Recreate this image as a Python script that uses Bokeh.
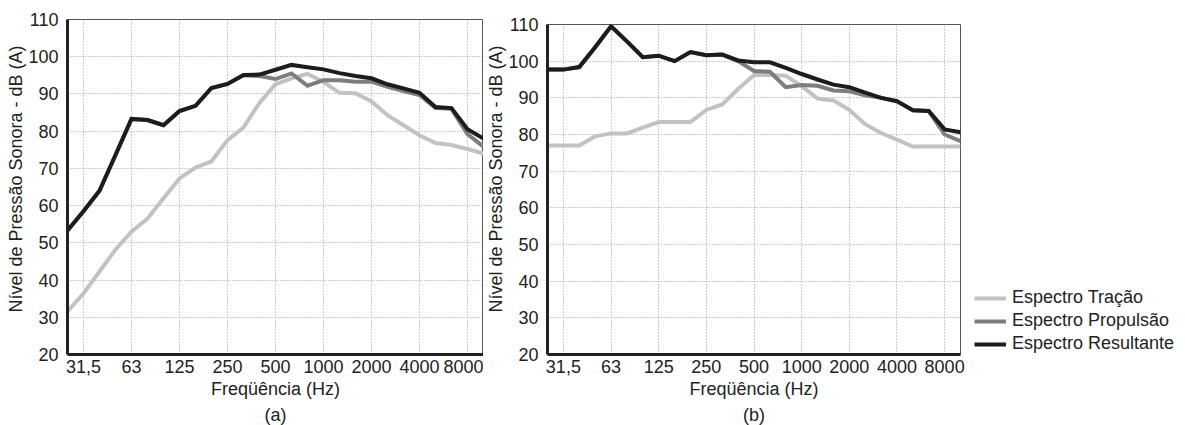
from bokeh.plotting import figure
from bokeh.models import Range1d, FixedTicker, Legend, LegendItem, Title
from bokeh.layouts import row, column
from bokeh.embed import file_html
from bokeh.resources import INLINE

# third-octave bands (x positions are band indices)
bands = ["25", "31,5", "40", "50", "63", "80", "100", "125", "160", "200", "250", "315",
         "400", "500", "630", "800", "1000", "1250", "1600", "2000", "2500", "3150",
         "4000", "5000", "6300", "8000", "10000"]
tick_labels = ["31,5", "63", "125", "250", "500", "1000", "2000", "4000", "8000"]
y_ticks = [20, 30, 40, 50, 60, 70, 80, 90, 100, 110]

# panel (a)
a_tracao = [31.6, 36.4, 42.3, 48.2, 53.0, 56.5, 62.0, 67.3, 70.2, 71.9, 77.6, 81.0, 87.6,
            92.6, 94.2, 95.4, 93.2, 90.3, 90.2, 88.0, 84.3, 81.6, 78.9, 76.8, 76.3, 75.2, 74.0]
a_propulsao = [53.3, 58.5, 64.0, 73.6, 83.3, 83.0, 81.6, 85.4, 86.8, 91.6, 92.7, 95.0, 94.8,
               94.0, 95.5, 92.2, 93.7, 93.7, 93.3, 93.3, 91.9, 90.8, 89.7, 86.2, 86.0, 79.2, 75.8]
a_resultante = [53.3, 58.5, 64.0, 73.6, 83.3, 83.0, 81.6, 85.4, 86.8, 91.6, 92.7, 95.1, 95.2,
                96.5, 97.8, 97.2, 96.6, 95.6, 94.8, 94.2, 92.6, 91.5, 90.3, 86.5, 86.2, 80.5, 78.0]

# panel (b)
b_tracao = [77.0, 77.0, 77.0, 79.5, 80.3, 80.3, 81.9, 83.4, 83.4, 83.4, 86.7, 88.2, 92.4,
            96.2, 96.2, 96.0, 93.2, 89.8, 89.3, 86.7, 82.8, 80.4, 78.6, 76.7, 76.7, 76.7, 76.7]
b_propulsao = [97.7, 97.7, 98.4, 103.8, 109.5, 105.4, 101.1, 101.5, 100.0, 102.5, 101.6, 101.8, 100.0,
               97.3, 97.1, 92.9, 93.5, 93.3, 92.0, 91.8, 90.7, 90.0, 89.0, 86.6, 86.4, 80.0, 78.2]
b_resultante = [97.7, 97.7, 98.4, 103.8, 109.5, 105.4, 101.1, 101.5, 100.0, 102.5, 101.6, 101.8, 100.2,
                99.7, 99.7, 98.2, 96.5, 95.0, 93.6, 92.9, 91.4, 90.0, 89.1, 86.6, 86.4, 81.4, 80.6]

series_names = ["Espectro Tração", "Espectro Propulsão", "Espectro Resultante"]
series_colors = ["#c2c2c2", "#7d7d7d", "#1c1c1c"]
y_title = "Nível de Pressão Sonora  - dB (A)"
x_title = "Freqüência (Hz)"

FONT = "Liberation Sans"
FS = "18px"
TXT = "#222222"
x_idx = list(range(len(bands)))
tick_idx = [bands.index(t) for t in tick_labels]


def make_panel(tag, series, frame_w, frame_h, left, top, right):
    p = figure(frame_width=frame_w, frame_height=frame_h,
               x_range=Range1d(0, len(bands) - 1), y_range=Range1d(20, 110),
               output_backend="svg", toolbar_location=None,
               min_border_left=left, min_border_right=right,
               min_border_top=top, min_border_bottom=71)
    p.background_fill_color = "white"
    p.border_fill_color = "white"
    p.outline_line_color = "#555555"
    p.outline_line_width = 1

    p.xaxis.ticker = FixedTicker(ticks=tick_idx)
    p.xaxis.major_label_overrides = {i: t for i, t in zip(tick_idx, tick_labels)}
    p.yaxis.ticker = FixedTicker(ticks=y_ticks)
    for ax in (p.xaxis[0], p.yaxis[0]):
        ax.axis_line_width = 3
        ax.axis_line_color = "#222222"
        ax.major_tick_line_color = None
        ax.minor_tick_line_color = None
        ax.major_label_text_font = FONT
        ax.major_label_text_font_size = FS
        ax.major_label_text_color = TXT
        ax.axis_label_text_font = FONT
        ax.axis_label_text_font_size = FS
        ax.axis_label_text_font_style = "normal"
        ax.axis_label_text_color = TXT
    p.xaxis.axis_label = x_title
    p.xaxis.major_label_standoff = -1
    p.xaxis.axis_label_standoff = 3
    p.yaxis.major_label_standoff = 3

    for g in (p.xgrid[0], p.ygrid[0]):
        g.grid_line_color = "#999999"
        g.grid_line_dash = "1 2"
        g.grid_line_width = 1
    p.xgrid.ticker = FixedTicker(ticks=tick_idx)

    p.add_layout(Title(text=y_title, align="left", offset=42, text_font=FONT, text_font_size=FS,
                       text_font_style="normal", text_color=TXT, standoff=0), "left")
    p.add_layout(Title(text=tag, align="center", text_font=FONT, text_font_size=FS,
                       text_font_style="normal", text_color=TXT, standoff=2), "below")

    rends = []
    for vals, col in zip(series, series_colors):
        r = p.line(x_idx, vals, line_color=col, line_width=4, line_join="miter")
        rends.append(r)
    return p, rends


pa, _ = make_panel("(a)", [a_tracao, a_propulsao, a_resultante], 416, 335, 67, 19, 0)
pb, rb = make_panel("(b)", [b_tracao, b_propulsao, b_resultante], 413, 330, 63, 24, 226)

legend = Legend(items=[LegendItem(label=n, renderers=[r]) for n, r in zip(series_names, rb)],
                location=(14, 0))
legend.border_line_color = None
legend.background_fill_alpha = 0
legend.label_text_font = FONT
legend.label_text_font_size = FS
legend.label_text_color = TXT
legend.glyph_width = 32
legend.glyph_height = 20
legend.label_height = 20
legend.spacing = 2
legend.padding = 0
legend.margin = 0
legend.label_standoff = 6
pb.add_layout(legend, "right")

layout = row(column(pa), column(pb))
open("out.html", "w").write(file_html(layout, INLINE))
